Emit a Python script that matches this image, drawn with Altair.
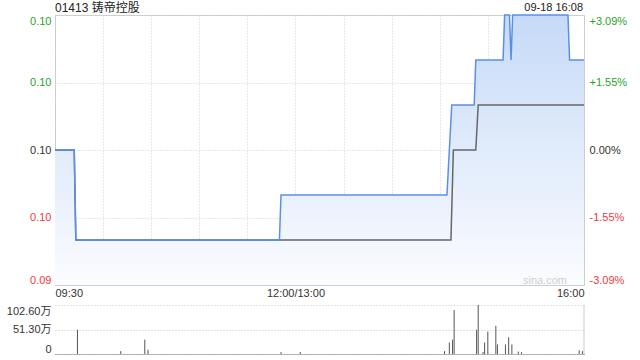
import altair as alt
import pandas as pd

PREV_CLOSE = 0.097
PRICE_LO, PRICE_HI = 0.094, 0.100
PCT_LO = (PRICE_LO / PREV_CLOSE - 1) * 100
PCT_HI = (PRICE_HI / PREV_CLOSE - 1) * 100

# minutes since 09:30 on a trading clock (lunch break removed): 0 .. 330
price_minutes = [0, 12, 13, 140, 141, 244.5, 246, 247.5, 261.5, 262.5, 279.5, 280.5,
                 283.5, 284.5, 285.5, 320, 321, 330]
price_values = [0.097, 0.097, 0.095, 0.095, 0.096, 0.096, 0.097, 0.098, 0.098, 0.099,
                0.099, 0.100, 0.100, 0.099, 0.100, 0.100, 0.099, 0.099]

avg_minutes = [0, 12, 13, 247, 248.5, 262.5, 264, 330]
avg_values = [0.097, 0.097, 0.095, 0.095, 0.097, 0.097, 0.098, 0.098]

vol_minutes = [14, 41, 56, 58, 141, 153, 243, 246, 248, 249, 263, 264, 267, 268, 270,
               275, 276, 281, 283, 285, 289, 291, 327, 329]
vol_values = [51, 6, 30, 9, 4, 4, 6, 24, 30, 92, 51, 102.6, 4, 24, 47, 59, 20, 20, 35,
              20, 5, 4, 8, 6]  # 万 shares

pct_ticks = [PCT_LO, PCT_LO / 2, 0, PCT_HI / 2, PCT_HI]
x_grid_minutes = [0, 30, 60, 90, 120, 150, 180, 210, 240, 270, 300, 330]
x_label_minutes = [0, 150, 330]
x_label_texts = ["09:30", "12:00/13:00", "16:00"]
vol_ticks = [0, 51.3, 102.6]

title_text = "01413 铸帝控股"
date_text = "09-18 16:08"
watermark = "sina.com"

FONT = "Liberation Sans, Noto Sans CJK SC, sans-serif"
GREEN = "#1fa51f"
RED = "#f23a3a"
TXT = "#333333"
GRID = "#d0d0d0"
BLUE = "#5b8fe8"
AVG = "#666666"

W, H = 529, 270
VH = 49

price_df = pd.DataFrame({"minute": price_minutes, "price": price_values})
price_df["pct"] = (price_df["price"] / PREV_CLOSE - 1) * 100
avg_df = pd.DataFrame({"minute": avg_minutes, "price": avg_values})
avg_df["pct"] = (avg_df["price"] / PREV_CLOSE - 1) * 100
vol_df = pd.DataFrame({"minute": vol_minutes, "vol": vol_values})

x_scale = alt.Scale(domain=[0, 330], nice=False, zero=False)
y_scale = alt.Scale(domain=[PCT_LO, PCT_HI], nice=False, zero=False)

label_expr_x = " : ".join(
    f"datum.value == {m} ? '{t}'" for m, t in zip(x_label_minutes, x_label_texts)
) + " : ''"

x_axis = alt.Axis(values=x_grid_minutes, labelExpr=label_expr_x, labelFlush=True,
                  labelOverlap=False, ticks=False, domain=False, grid=True,
                  gridColor=GRID, gridDash=[1, 2], labelPadding=2, labelFontSize=11,
                  labelColor=TXT, title=None)

label_color = {"condition": [{"test": "datum.value > 0.01", "value": GREEN},
                             {"test": "datum.value < -0.01", "value": RED}],
               "value": TXT}

left_axis = alt.Axis(orient="left", values=pct_ticks,
                     labelExpr=f"format({PREV_CLOSE} * (1 + datum.value / 100), '.2f')",
                     labelColor=label_color, labelFlush=True, ticks=False, domain=False,
                     grid=True, gridColor=GRID, gridDash=[1, 2], labelPadding=4,
                     labelFontSize=11, title=None)
right_axis = alt.Axis(orient="right", values=pct_ticks,
                      labelExpr="(datum.value > 0.01 ? '+' : (datum.value < -0.01 ? '-' : '')) + format(abs(datum.value), '.2f') + '%'",
                      labelColor=label_color, labelFlush=True, ticks=False, domain=False,
                      grid=False, labelPadding=5, labelFontSize=11, title=None)

X = alt.X("minute:Q", scale=x_scale, axis=x_axis)

gradient = alt.Gradient(gradient="linear",
                        stops=[alt.GradientStop(color="#c6daf7", offset=0),
                               alt.GradientStop(color="#fbfcff", offset=1)],
                        x1=1, x2=1, y1=0, y2=1)

area = alt.Chart(price_df).mark_area(fill=gradient, interpolate="linear").encode(
    x=X,
    y=alt.Y("pct:Q", scale=y_scale, axis=left_axis),
    y2=alt.datum(PCT_LO),
)
avg_line = alt.Chart(avg_df).mark_line(color=AVG, strokeWidth=1.5).encode(
    x=X,
    y=alt.Y("pct:Q", scale=y_scale, axis=right_axis),
)
price_line = alt.Chart(price_df).mark_line(color=BLUE, strokeWidth=1.5).encode(
    x=X,
    y=alt.Y("pct:Q", scale=y_scale, axis=None),
)
title_mark = alt.Chart(pd.DataFrame({"t": [title_text]})).mark_text(
    align="left", baseline="middle", fontSize=12, color="#222222", font=FONT
).encode(x=alt.value(0), y=alt.value(-7), text="t:N")
date_mark = alt.Chart(pd.DataFrame({"t": [date_text]})).mark_text(
    align="right", baseline="middle", fontSize=11, color="#222222", font=FONT
).encode(x=alt.value(W - 1), y=alt.value(-7), text="t:N")
wm_mark = alt.Chart(pd.DataFrame({"t": [watermark]})).mark_text(
    align="right", baseline="middle", fontSize=11, color="#cfcfcf", font=FONT
).encode(x=alt.value(W - 17), y=alt.value(H - 4), text="t:N")

price_panel = alt.layer(area, avg_line, price_line, title_mark, date_mark, wm_mark).resolve_axis(
    y="independent"
).properties(width=W, height=H, view=alt.ViewBackground(stroke="#cccccc"))

vol_bars = alt.Chart(vol_df).mark_rule(color="#555555", strokeWidth=1).encode(
    x=alt.X("minute:Q", scale=x_scale,
            axis=alt.Axis(labels=False, ticks=False, grid=False, domainDash=[1, 1],
                          domainColor="#777777", title=None)),
    y=alt.Y("vol:Q", scale=alt.Scale(domain=[0, 102.6], nice=False, zero=True),
            axis=alt.Axis(values=vol_ticks,
                          labelExpr="datum.value == 0 ? '0' : format(datum.value, '.2f') + '万'",
                          labelFlush=True, ticks=False, domain=False, grid=True,
                          gridColor="#c8c8c8", gridDash=[1, 2], labelPadding=4,
                          labelFontSize=11, labelColor=TXT, title=None)),
    y2=alt.datum(0),
)
vol_border = alt.Chart(pd.DataFrame({"a": [0]})).mark_rule(color="#cccccc").encode(
    x=alt.value(W), y=alt.value(0), y2=alt.value(VH)
)
vol_panel = alt.layer(vol_bars, vol_border).properties(
    width=W, height=VH, view=alt.ViewBackground(stroke=None)
)

chart = alt.vconcat(price_panel, vol_panel, spacing=5).properties(
    padding={"left": 6, "top": 1, "right": 5, "bottom": 5}
).configure(font=FONT).configure_axis(labelFont=FONT).configure_view(stroke=None)

chart.save("out.html", embed_options={"renderer": "svg", "actions": False})
